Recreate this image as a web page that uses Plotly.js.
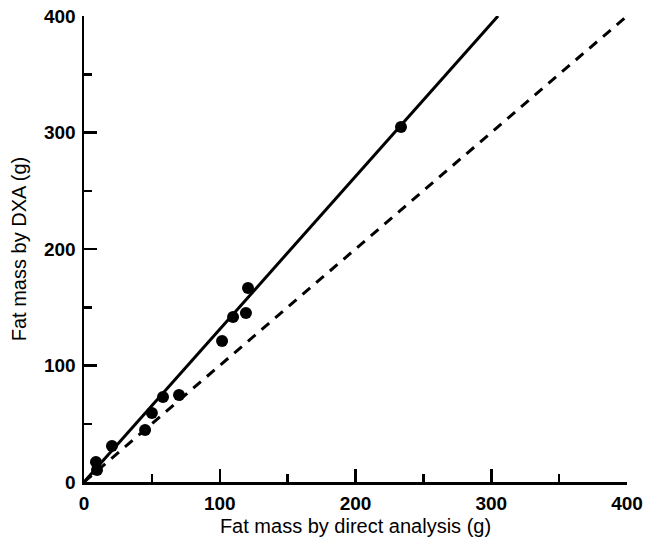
<!DOCTYPE html>
<html>
<head>
<meta charset="utf-8">
<script src="https://cdn.plot.ly/plotly-3.0.1.min.js"></script>
<style>html,body{margin:0;padding:0;background:#fff;}#chart{width:647px;height:538px;}</style>
</head>
<body>
<div id="chart"></div>
<script>
// Observed data: fat mass by direct analysis (g) vs DXA (g)
const directAnalysis = [233.5, 120.8, 119.3, 109.8, 101.7, 70.0, 58.2, 50.0, 45.0, 20.6, 8.8, 9.6];
const dxaMass        = [304.7, 166.5, 145.0, 141.6, 121.0, 74.7, 73.0, 59.2, 44.6, 30.9, 17.2, 10.3];
// Regression line endpoints
const regX = [0, 305];
const regY = [0, 400];
// Line of identity
const idX = [0, 400];
const idY = [0, 400];
const tickVals = [0, 100, 200, 300, 400];
const tickText = ['0', '100', '200', '300', '400'];
const minorVals = [50, 150, 250, 350];

const font = 'Liberation Sans, Arial, Helvetica, sans-serif';

const traces = [
  {x: idX, y: idY, mode: 'lines', line: {color: '#000', width: 3, dash: '10px,8px'}, hoverinfo: 'skip', showlegend: false},
  {x: regX, y: regY, mode: 'lines', line: {color: '#000', width: 3}, hoverinfo: 'skip', showlegend: false},
  {x: directAnalysis, y: dxaMass, mode: 'markers', marker: {color: '#000', size: 12}, showlegend: false, cliponaxis: false}
];

const axisCommon = {
  range: [0, 400],
  showline: true, linecolor: '#000', linewidth: 2.5,
  showgrid: false, zeroline: false,
  ticks: 'inside', ticklen: 13, tickwidth: 2.5, tickcolor: '#000',
  tickvals: tickVals, ticktext: tickText,
  tickfont: {family: font, size: 19, color: '#000', weight: 'bold'},
  minor: {tickvals: minorVals, ticks: 'inside', ticklen: 8, tickwidth: 2.5, tickcolor: '#000'},
  fixedrange: true
};

const layout = {
  width: 647, height: 538,
  margin: {l: 84, r: 20, t: 16, b: 56},
  paper_bgcolor: '#fff', plot_bgcolor: '#fff',
  xaxis: Object.assign({}, axisCommon, {
    title: {text: 'Fat mass by direct analysis (g)', font: {family: font, size: 20, color: '#000'}, standoff: 6},
    ticklabelstandoff: 3
  }),
  yaxis: Object.assign({}, axisCommon, {
    title: {text: 'Fat mass by DXA (g)', font: {family: font, size: 20, color: '#000'}, standoff: 12},
    ticklabelstandoff: 2
  }),
  showlegend: false
};

Plotly.newPlot('chart', traces, layout, {displayModeBar: false, staticPlot: true});
</script>
</body>
</html>
